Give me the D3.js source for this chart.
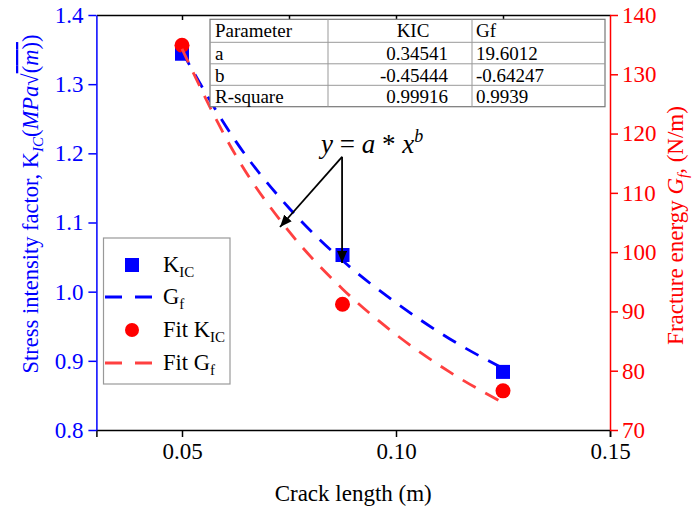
<!DOCTYPE html>
<html>
<head>
<meta charset="utf-8">
<script src="https://cdn.jsdelivr.net/npm/d3@7"></script>
<style>
  body { margin: 0; background: #fff; }
  svg text { font-family: 'Liberation Serif', 'Times New Roman', Times, serif; }
</style>
</head>
<body>
<div id="chart"></div>
<script>
// measured points
var crack = [0.05, 0.0875, 0.125];
var kic = [1.344, 1.053, 0.884];
var gf = [134.9, 91.2, 76.6];

// dashed curves
var fitX = [0.05, 0.0625, 0.075, 0.0875, 0.1, 0.1125, 0.125];
var fitKic = [1.347, 1.218, 1.121, 1.045, 0.984, 0.932, 0.889];
var fitGf = [134.3, 116.4, 103.5, 93.8, 86.1, 79.8, 74.6];

var xTicks = [0.05, 0.10, 0.15];
var xTopTicks = [0.05, 0.075, 0.1, 0.125];
var yLeftTicks = [0.8, 0.9, 1.0, 1.1, 1.2, 1.3, 1.4];
var yRightTicks = [70, 80, 90, 100, 110, 120, 130, 140];

var tableHeader = ["Parameter", "KIC", "Gf"];
var tableRows = [
    ["a", "0.34541", "19.6012"],
    ["b", "-0.45444", "-0.64247"],
    ["R-square", "0.99916", "0.9939"]
];

function init(){
    var w = 693, h = 514;
    var left = 96.4, right = 610, top = 15, bottom = 430;
    var blue = "#0000ff", red = "#ff0000", lightRed = "#ff4040";
    var serif = "'Liberation Serif', 'Times New Roman', Times, serif";

    var xScale = d3.scaleLinear().domain([0.03, 0.15]).range([left, right]);
    var yLeft = d3.scaleLinear().domain([0.8, 1.4]).range([bottom, top]);
    var yRight = d3.scaleLinear().domain([70, 140]).range([bottom, top]);

    var svg = d3.select("#chart").append("svg")
        .attr("width", w).attr("height", h)
        .attr("font-family", serif);

    var defs = svg.append("defs");
    defs.append("marker")
        .attr("id", "arrow")
        .attr("viewBox", "0 0 12 10")
        .attr("refX", 12).attr("refY", 5)
        .attr("markerWidth", 12).attr("markerHeight", 10)
        .attr("markerUnits", "userSpaceOnUse")
        .attr("orient", "auto")
        .append("path").attr("d", "M0,0 L12,5 L0,10 Z").attr("fill", "#000");

    // bottom axis
    var xAxis = d3.axisBottom(xScale).tickValues(xTicks).tickFormat(d3.format(".2f"))
        .tickSize(7).tickPadding(6);
    var gx = svg.append("g")
        .attr("transform", "translate(0," + bottom + ")")
        .call(xAxis)
        .attr("font-family", serif).attr("font-size", 23);
    gx.select(".domain").attr("stroke", "#000").attr("stroke-width", 1.5);
    gx.selectAll(".tick line").attr("stroke", "#000").attr("stroke-width", 1.5);
    gx.selectAll("text").attr("fill", "#000");

    // top frame line with inward ticks
    var xTop = d3.axisBottom(xScale).tickValues(xTopTicks).tickFormat("").tickSize(5).tickSizeOuter(0);
    var gt = svg.append("g")
        .attr("transform", "translate(0," + top + ")")
        .call(xTop);
    gt.select(".domain").attr("stroke", "#000").attr("stroke-width", 1.5);
    gt.selectAll(".tick line").attr("stroke", "#000").attr("stroke-width", 1.5);

    // left axis
    var gl = svg.append("g")
        .attr("transform", "translate(" + left + ",0)")
        .call(d3.axisLeft(yLeft).tickValues(yLeftTicks).tickFormat(d3.format(".1f"))
            .tickSize(8).tickSizeOuter(0).tickPadding(5))
        .attr("font-family", serif).attr("font-size", 23);
    gl.select(".domain").attr("stroke", blue).attr("stroke-width", 1.5);
    gl.selectAll(".tick line").attr("stroke", blue).attr("stroke-width", 1.5);
    gl.selectAll("text").attr("fill", blue);

    // right axis
    var gr = svg.append("g")
        .attr("transform", "translate(" + right + ",0)")
        .call(d3.axisRight(yRight).tickValues(yRightTicks)
            .tickSize(8).tickSizeOuter(0).tickPadding(4))
        .attr("font-family", serif).attr("font-size", 23);
    gr.select(".domain").attr("stroke", red).attr("stroke-width", 1.5);
    gr.selectAll(".tick line").attr("stroke", red).attr("stroke-width", 1.5);
    gr.selectAll("text").attr("fill", red);

    // axis titles
    svg.append("text")
        .attr("x", (left + right) / 2).attr("y", 501)
        .attr("text-anchor", "middle").attr("font-size", "23px")
        .text("Crack length (m)");

    var lt = svg.append("text")
        .attr("transform", "translate(38,204) rotate(-90)")
        .attr("text-anchor", "middle").attr("font-size", "22.5px").attr("fill", blue);
    lt.append("tspan").text("Stress intensity factor, K");
    lt.append("tspan").attr("font-style", "italic").attr("font-size", "15px").attr("dy", 5).text("IC");
    lt.append("tspan").attr("dy", -5).text("(");
    lt.append("tspan").attr("font-style", "italic").text("MPa");
    lt.append("tspan").text("\u221A");
    lt.append("tspan").style("text-decoration", "overline").text("(");
    lt.append("tspan").style("text-decoration", "overline").attr("font-style", "italic").text("m");
    lt.append("tspan").style("text-decoration", "overline").text(")");
    lt.append("tspan").text(")");

    var rt = svg.append("text")
        .attr("transform", "translate(683," + ((top + bottom) / 2 + 3) + ") rotate(-90)")
        .attr("text-anchor", "middle").attr("font-size", "23px").attr("fill", red);
    rt.append("tspan").text("Fracture energy ");
    rt.append("tspan").attr("font-style", "italic").text("G");
    rt.append("tspan").attr("font-style", "italic").attr("font-size", "15px").attr("dy", 5).text("f");
    rt.append("tspan").attr("dy", -5).text(", (N/m)");

    // markers
    svg.selectAll(".sq").data(crack).enter().append("rect")
        .attr("class", "sq")
        .attr("x", function(d) { return xScale(d) - 7; })
        .attr("y", function(d, i) { return yLeft(kic[i]) - 7; })
        .attr("width", 14).attr("height", 14)
        .attr("fill", blue);

    svg.selectAll(".dot").data(crack).enter().append("circle")
        .attr("class", "dot")
        .attr("cx", function(d) { return xScale(d); })
        .attr("cy", function(d, i) { return yRight(gf[i]); })
        .attr("r", 7.5)
        .attr("fill", red);

    // dashed curves
    var kicLine = d3.line()
        .x(function(d) { return xScale(d); })
        .y(function(d, i) { return yLeft(fitKic[i]); })
        .curve(d3.curveMonotoneX);
    var gfLine = d3.line()
        .x(function(d) { return xScale(d); })
        .y(function(d, i) { return yRight(fitGf[i]); })
        .curve(d3.curveMonotoneX);

    svg.append("path").datum(fitX)
        .attr("d", kicLine).attr("fill", "none")
        .attr("stroke", blue).attr("stroke-width", 2.8)
        .attr("stroke-dasharray", "15,11");
    svg.append("path").datum(fitX)
        .attr("d", gfLine).attr("fill", "none")
        .attr("stroke", lightRed).attr("stroke-width", 2.8)
        .attr("stroke-dasharray", "15,11");

    // annotation
    var from = [0.0874, 1.195];
    var arrowTo = [[0.0729, 1.0935], [0.0874, yLeft.invert(yLeft(kic[1]) + 8)]];
    arrowTo.forEach(function(p) {
        svg.append("line")
            .attr("x1", xScale(from[0])).attr("y1", yLeft(from[1]))
            .attr("x2", xScale(p[0])).attr("y2", yLeft(p[1]))
            .attr("stroke", "#000").attr("stroke-width", 1.8)
            .attr("marker-end", "url(#arrow)");
    });

    var eq = svg.append("text")
        .attr("x", xScale(from[0]) + 30).attr("y", yLeft(from[1]) - 4)
        .attr("text-anchor", "middle").attr("font-size", "27px");
    eq.append("tspan").attr("font-style", "italic").text("y");
    eq.append("tspan").text(" = ");
    eq.append("tspan").attr("font-style", "italic").text("a");
    eq.append("tspan").text(" * ");
    eq.append("tspan").attr("font-style", "italic").text("x");
    eq.append("tspan").attr("font-style", "italic").attr("font-size", "18px").attr("dy", -11).text("b");

    // parameter table
    var colX = [210, 328, 472, 605];
    var rowY = [19.3, 42.3, 63.8, 85.3, 106.7];
    var table = svg.append("g");
    table.append("rect")
        .attr("x", colX[0]).attr("y", rowY[0])
        .attr("width", colX[3] - colX[0]).attr("height", rowY[4] - rowY[0])
        .attr("fill", "#fff").attr("stroke", "#777").attr("stroke-width", 1.2);
    rowY.slice(1, 4).forEach(function(y) {
        table.append("line").attr("x1", colX[0]).attr("x2", colX[3])
            .attr("y1", y).attr("y2", y).attr("stroke", "#999");
    });
    colX.slice(1, 3).forEach(function(x) {
        table.append("line").attr("x1", x).attr("x2", x)
            .attr("y1", rowY[0]).attr("y2", rowY[4]).attr("stroke", "#999");
    });
    var allRows = [tableHeader].concat(tableRows);
    allRows.forEach(function(r, i) {
        var base = rowY[i] + 18;
        table.append("text").attr("x", colX[0] + 5).attr("y", base)
            .attr("font-size", "19px").text(r[0]);
        table.append("text")
            .attr("x", i === 0 ? 413 : 448).attr("y", base)
            .attr("text-anchor", i === 0 ? "middle" : "end")
            .attr("font-size", "19px").text(r[1]);
        table.append("text").attr("x", colX[2] + 4).attr("y", base)
            .attr("font-size", "19px").text(r[2]);
    });

    // legend
    var lg = svg.append("g");
    lg.append("rect").attr("x", 103.5).attr("y", 238).attr("width", 126.5).attr("height", 146)
        .attr("fill", "#fff").attr("stroke", "#999").attr("stroke-width", 1.2);
    var rows = [265, 297, 330, 363];
    lg.append("rect").attr("x", 125).attr("y", rows[0] - 7).attr("width", 14).attr("height", 14).attr("fill", blue);
    lg.append("line").attr("x1", 105).attr("x2", 153).attr("y1", rows[1]).attr("y2", rows[1])
        .attr("stroke", blue).attr("stroke-width", 2.8).attr("stroke-dasharray", "17,13");
    lg.append("circle").attr("cx", 132).attr("cy", rows[2]).attr("r", 7).attr("fill", red);
    lg.append("line").attr("x1", 105).attr("x2", 153).attr("y1", rows[3]).attr("y2", rows[3])
        .attr("stroke", lightRed).attr("stroke-width", 2.8).attr("stroke-dasharray", "17,13");

    var labels = [["K", "IC"], ["G", "f"], ["Fit K", "IC"], ["Fit G", "f"]];
    labels.forEach(function(l, i) {
        var t = lg.append("text").attr("x", 163).attr("y", rows[i] + 7).attr("font-size", "22.5px");
        t.append("tspan").text(l[0]);
        t.append("tspan").attr("font-size", "15px").attr("dy", 5).text(l[1]);
    });
}
window.onload = init;
</script>
</body>
</html>
